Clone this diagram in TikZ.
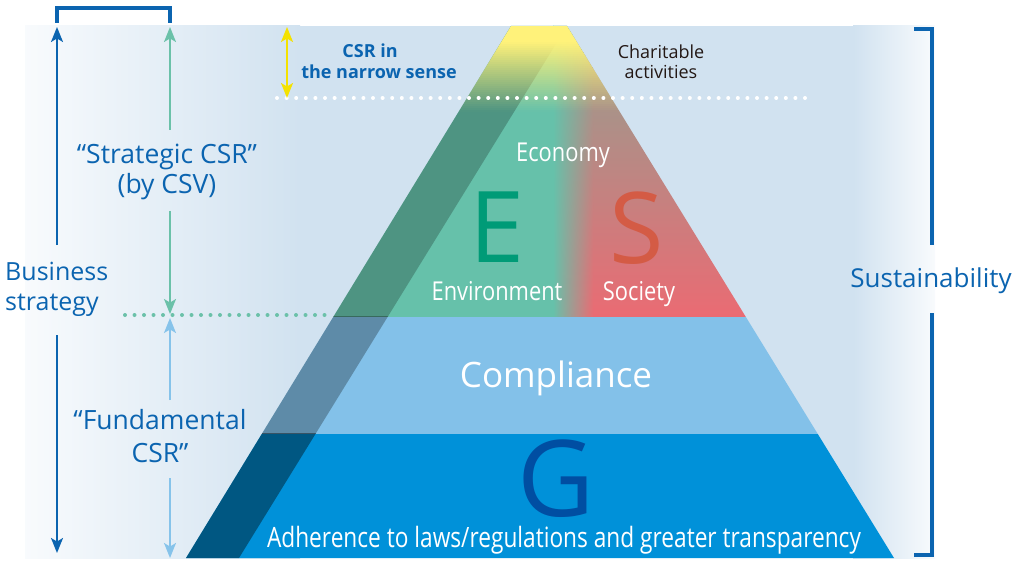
\documentclass[tikz,border=0pt]{standalone}
\usepackage{fontspec}
\setmainfont{Open Sans}
\newfontfamily\condf{Open Sans}[FakeStretch=0.84]
\newfontfamily\condg{Open Sans}[FakeStretch=0.81]
\usetikzlibrary{arrows.meta}
\definecolor{panel}{HTML}{D1E2F0}
\definecolor{csrblue}{HTML}{0B64B0}
\definecolor{tealc}{HTML}{6BC1A9}
\definecolor{lblue}{HTML}{86C3EA}
\definecolor{yelarrow}{HTML}{F4E200}
\definecolor{greenl}{HTML}{66C1AA}
\definecolor{mauve}{HTML}{A6948A}
\definecolor{redl}{HTML}{EA6B73}
\definecolor{yell}{HTML}{FFF27A}
\definecolor{compl}{HTML}{83C1E9}
\definecolor{glay}{HTML}{0091D9}
\definecolor{gletter}{HTML}{004EA2}
\definecolor{eletter}{HTML}{009B77}
\definecolor{sletter}{HTML}{D45B45}
\definecolor{darktxt}{HTML}{231815}
\newcommand\myfs[2]{\fontsize{#1}{#2}\selectfont}
\tikzset{
  lbl/.style={inner sep=0pt, text=csrblue, align=center},
  wcond/.style={inner sep=0pt, text=white, font=\condf\myfs{26}{30}},
  bigletter/.style={inner sep=0pt, font=\myfs{99}{100}},
  brk/.style={draw=csrblue, line width=4.5pt, miter limit=10},
  arrBiz/.style={draw=csrblue, line width=1.8pt, -{Stealth[length=15pt,width=12pt,inset=3.5pt]}},
  arrTeal/.style={draw=tealc, line width=1.6pt, -{Stealth[length=15pt,width=12pt,inset=3.5pt]}},
  arrLB/.style={draw=lblue, line width=1.6pt, -{Stealth[length=15pt,width=12pt,inset=3.5pt]}},
  arrYel/.style={draw=yelarrow, line width=1.8pt, {Stealth[length=15pt,width=12pt,inset=3.5pt]}-{Stealth[length=15pt,width=12pt,inset=3.5pt]}},
  dotsW/.style={draw=white, line width=4pt, line cap=round, dash pattern=on 0pt off 9.6pt},
  dotsG/.style={draw=tealc, line width=4pt, line cap=round, dash pattern=on 0pt off 9.5pt},
}
\begin{document}
\begin{tikzpicture}[x=1pt,y=-1pt]
\useasboundingbox (0,0) rectangle (1016,561);
% background panel
\fill[panel] (25,26) rectangle (935,558);
\shade[left color=panel!15, right color=panel] (25,26) rectangle (300,558);
\shade[left color=panel, right color=panel!15] (853,26) rectangle (935,558);
% pyramid geometry
\coordinate (pTL) at (511,26);
\coordinate (pTR) at (567,26);
\coordinate (pBR) at (894,558);
\coordinate (pBL) at (186,558);
\coordinate (sBR) at (239,558);
\begin{scope}
  \clip (pTL) -- (pTR) -- (pBR) -- (pBL) -- cycle;
  % E/S layer: green left, red right with a vertical tint, soft seam
  \fill[greenl] (180,20) rectangle (553.5,317);
  \foreach \i in {0,...,98} {
    \pgfmathsetmacro\ya{20+3*\i}
    \pgfmathsetmacro\yb{\ya+3}
    \pgfmathsetmacro\pp{min(100,max(0,(\ya-95)/221*100))}
    \colorlet{rc}{redl!\pp!mauve}
    \fill[rc] (592.5,\ya) rectangle (900,\yb);
    \shade[left color=greenl, right color=rc] (553,\ya) rectangle (593,\yb);
  }
  % compliance and G layers
  \fill[compl] (180,316.5) rectangle (900,434);
  \fill[glay] (180,433.5) rectangle (900,559);
  % darker stripe
  \begin{scope}
    \clip (0,0) rectangle (1016,316.5);
    \fill[black, fill opacity=.23] (pTL) -- (pTR) -- (sBR) -- (pBL) -- cycle;
  \end{scope}
  \begin{scope}
    \clip (0,316.5) rectangle (1016,433.5);
    \fill[black, fill opacity=.28] (pTL) -- (pTR) -- (sBR) -- (pBL) -- cycle;
  \end{scope}
  \begin{scope}
    \clip (0,433.5) rectangle (1016,561);
    \fill[black, fill opacity=.40] (pTL) -- (pTR) -- (sBR) -- (pBL) -- cycle;
  \end{scope}
  % yellow top, fading downwards
  \foreach \i in {0,...,45} {
    \pgfmathsetmacro\ya{26+2*\i}
    \pgfmathsetmacro\op{min(1,max(0,(112-\ya-1)/70))}
    \fill[yell, fill opacity=\op] (180,\ya) rectangle (900,\ya+2);
  }
\end{scope}
% dotted lines
\coordinate (wd1) at (277,98);
\coordinate (wd2) at (805,98);
\draw[dotsW] (wd1) -- (wd2);
\coordinate (gd1) at (125,315);
\coordinate (gd2) at (330,315);
\draw[dotsG] (gd1) -- (gd2);
% brackets
\coordinate (bL) at (57,23);
\coordinate (bR) at (170,23);
\draw[brk] (bL) -- ++(0,-15) -| (bR);
\coordinate (rT) at (914,29);
\coordinate (rM1) at (932,245);
\coordinate (rM2) at (932,313);
\coordinate (rB) at (914,555);
\draw[brk] (rT) -| (rM1);
\draw[brk] (rM2) |- (rB);
% arrows
\coordinate (bizU1) at (57,245);
\coordinate (bizU2) at (57,27);
\coordinate (bizD1) at (57,335);
\coordinate (bizD2) at (57,553);
\draw[arrBiz] (bizU1) -- (bizU2);
\draw[arrBiz] (bizD1) -- (bizD2);
\coordinate (tU1) at (170,130);
\coordinate (tU2) at (170,27);
\coordinate (tD1) at (170,211);
\coordinate (tD2) at (170,314);
\draw[arrTeal] (tU1) -- (tU2);
\draw[arrTeal] (tD1) -- (tD2);
\coordinate (lU1) at (170,400);
\coordinate (lU2) at (170,318);
\coordinate (lD1) at (170,478);
\coordinate (lD2) at (170,558);
\draw[arrLB] (lU1) -- (lU2);
\draw[arrLB] (lD1) -- (lD2);
\coordinate (y1) at (287,27);
\coordinate (y2) at (287,98);
\draw[arrYel] (y1) -- (y2);
% texts (multi-line nodes: base anchor = last line)
\node[lbl, anchor=base west, align=left, font=\myfs{25}{30}] (biz) at (5,310) {Business\\strategy};
\node[lbl, anchor=base, font=\myfs{26.5}{30}] (strat) at (167,194) {“Strategic CSR”\\(by CSV)};
\node[lbl, anchor=base, font=\myfs{26.5}{33}] (fund) at (160,462) {“Fundamental\\CSR”};
\node[lbl, anchor=base, font=\bfseries\myfs{18}{21}] (narrow) at (379,79) {CSR in\hspace*{18pt}\\the narrow sense};
\node[lbl, anchor=base, text=darktxt, font=\myfs{18}{20}] (charit) at (661,79) {Charitable\\activities};
\node[lbl, anchor=base, font=\myfs{26}{30}] (sust) at (931,287) {Sustainability};
\node[wcond, anchor=base] (econ) at (563,162) {Economy};
\node[bigletter, anchor=base, text=eletter] (E) at (497,262) {E};
\node[bigletter, anchor=base, text=sletter] (S) at (637,263) {S};
\node[wcond, anchor=base] (env) at (497,300) {Environment};
\node[wcond, anchor=base] (soc) at (639,300) {Society};
\node[inner sep=0pt, anchor=base, text=white, font=\myfs{35}{40}] (comp) at (556,387) {Compliance};
\node[bigletter, anchor=base, text=gletter, font=\myfs{106}{110}] (G) at (556,516) {G};
\node[wcond, anchor=base, font=\condg\myfs{28}{30}] (adh) at (564,547) {Adherence to laws/regulations and greater transparency};
\end{tikzpicture}
\end{document}
